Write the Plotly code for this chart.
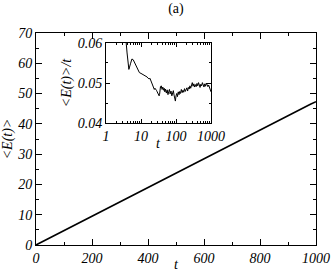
import plotly.graph_objects as go

# main curve <E(t)> vs t
t_main = [0, 20, 40, 60, 80, 100, 120, 140, 160, 180, 200, 220, 240, 260, 280, 300,
          320, 340, 360, 380, 400, 420, 440, 460, 480, 500, 520, 540, 560, 580, 600,
          620, 640, 660, 680, 700, 720, 740, 760, 780, 800, 820, 840, 860, 880, 900,
          920, 940, 960, 980, 1000]
E_main = [0, 0.95, 1.9, 2.85, 3.75, 4.65, 5.65, 6.6, 7.55, 8.5, 9.45, 10.4, 11.4, 12.45,
          13.4, 14.2, 15.1, 16.1, 17.1, 18.1, 19.0, 19.9, 20.9, 21.85, 22.8, 23.75, 24.7,
          25.65, 26.65, 27.6, 28.55, 29.4, 30.35, 31.35, 32.3, 33.25, 34.2, 35.15, 36.1,
          37.05, 38.0, 38.9, 39.9, 40.85, 41.8, 42.75, 43.7, 44.6, 45.6, 46.5, 47.3]

# inset <E(t)>/t vs t (log x)
t_in = [1, 2, 3, 4, 4.5, 5, 5.5, 6, 6.5, 7,
        7.5, 8, 9, 10, 11, 12, 13, 14, 15, 16,
        17, 18, 19, 20, 21, 22, 23, 24, 25, 26,
        27, 28, 29, 30, 31, 32, 33, 34, 35, 36,
        37, 38, 40, 42, 44, 46, 48, 50, 53, 56,
        59, 62, 65, 68, 72, 76, 80, 84, 88, 92,
        96, 100, 105, 110, 116, 122, 128, 135, 142, 150,
        158, 166, 175, 184, 194, 204, 215, 226, 238, 250,
        263, 277, 292, 307, 323, 340, 358, 377, 397, 418,
        440, 463, 487, 513, 540, 568, 598, 630, 663, 698,
        735, 774, 815, 858, 903, 950, 1000]
r_in = [0.10, 0.085, 0.07, 0.0575, 0.0534, 0.0548, 0.056, 0.0558, 0.0552, 0.0545,
        0.054, 0.0533, 0.0526, 0.0524, 0.0522, 0.052, 0.0519, 0.0516, 0.0515, 0.0512,
        0.051, 0.0512, 0.0507, 0.0504, 0.0498, 0.0494, 0.0488, 0.0484, 0.0487, 0.0485,
        0.0486, 0.0481, 0.0478, 0.0476, 0.0473, 0.0471, 0.0468, 0.0472, 0.0485, 0.0491,
        0.0488, 0.0493, 0.0484, 0.049, 0.0482, 0.0487, 0.0478, 0.0485, 0.0475, 0.0483,
        0.0471, 0.0479, 0.0484, 0.0473, 0.048, 0.0468, 0.0476, 0.0481, 0.047, 0.0462,
        0.0455, 0.0468, 0.0474, 0.0466, 0.0478, 0.0471, 0.0479, 0.0474, 0.0484, 0.0476,
        0.0482, 0.0477, 0.0486, 0.0479, 0.0484, 0.0488, 0.048, 0.0489, 0.0485, 0.0493,
        0.0487, 0.0496, 0.0501, 0.0492, 0.0498, 0.049, 0.0496, 0.0491, 0.0499, 0.0493,
        0.0501, 0.0495, 0.0489, 0.0497, 0.0493, 0.0501, 0.0496, 0.049, 0.0498, 0.0492,
        0.05, 0.0494, 0.0491, 0.0495, 0.0488, 0.0484, 0.0478]

x_ticks = [0, 200, 400, 600, 800, 1000]
y_ticks = [0, 10, 20, 30, 40, 50, 60, 70]
in_x_ticks = [1, 10, 100, 1000]
in_y_ticks = [0.04, 0.05, 0.06]
in_x_minor = [2, 3, 4, 5, 6, 7, 8, 9, 20, 30, 40, 50, 60, 70, 80, 90,
              200, 300, 400, 500, 600, 700, 800, 900]

FONT = "Liberation Serif"
tick_font = dict(family=FONT, size=14, color="black", style="italic")
label_font = dict(family=FONT, size=14, color="black", style="italic")

fig = go.Figure()
fig.add_trace(go.Scatter(x=t_main, y=E_main, mode="lines",
                         line=dict(color="black", width=1.6), xaxis="x", yaxis="y"))
fig.add_trace(go.Scatter(x=t_in, y=r_in, mode="lines",
                         line=dict(color="black", width=1), xaxis="x2", yaxis="y2"))

axis_common = dict(showline=True, linecolor="black", linewidth=1, mirror="allticks",
                   ticks="inside", tickcolor="black", showgrid=False, zeroline=False,
                   tickfont=tick_font, automargin=False)

fig.update_layout(
    width=332, height=272,
    margin=dict(l=36, r=16, t=33, b=27),
    paper_bgcolor="white", plot_bgcolor="white",
    showlegend=False,
    font=dict(family=FONT),
    title=dict(text="(a)", x=0.53, xanchor="center", y=0.97, yanchor="middle",
               font=dict(family=FONT, size=14, color="black")),
    xaxis=dict(range=[0, 1000], tickvals=x_ticks, ticklen=6, tickwidth=1,
               minor=dict(dtick=100, ticks="inside", ticklen=3, tickcolor="black"),
               **axis_common),
    yaxis=dict(range=[0, 70], tickvals=y_ticks, ticklen=6, tickwidth=1,
               minor=dict(dtick=5, ticks="inside", ticklen=3, tickcolor="black"),
               title=dict(text="<E(t)>", font=label_font, standoff=4),
               **axis_common),
    xaxis2=dict(type="log", range=[0, 3], tickvals=in_x_ticks, ticktext=["1", "10", "100", "1000"],
                ticklen=4, domain=[0.25, 0.625], anchor="y2",
                minor=dict(tickvals=in_x_minor, ticks="inside", ticklen=2, tickcolor="black"),
                **axis_common),
    yaxis2=dict(range=[0.04, 0.06], tickvals=in_y_ticks, ticktext=["0.04", "0.05", "0.06"],
                ticklen=4, domain=[0.575, 0.953], anchor="x2",
                minor=dict(dtick=0.005, ticks="inside", ticklen=2, tickcolor="black"),
                title=dict(text="<E(t)>/t", font=label_font, standoff=2),
                **axis_common),
)
# main x-axis title (paper y is relative to the plot area)
fig.add_annotation(text="t", xref="x domain", yref="paper", x=0.5, y=-0.09,
                   xanchor="center", yanchor="middle", showarrow=False, font=label_font)
# inset x-axis title
fig.add_annotation(text="t", xref="x2 domain", yref="paper", x=0.5, y=0.478,
                   xanchor="center", yanchor="middle", showarrow=False, font=label_font)
# white background behind inset
fig.add_shape(type="rect", xref="x2 domain", yref="y2 domain", x0=0, x1=1, y0=0, y1=1,
              fillcolor="white", line=dict(width=0), layer="below")

fig.write_html("out.html", config={"displayModeBar": False},
               post_script="document.body.style.margin='0';document.body.style.padding='0';")
